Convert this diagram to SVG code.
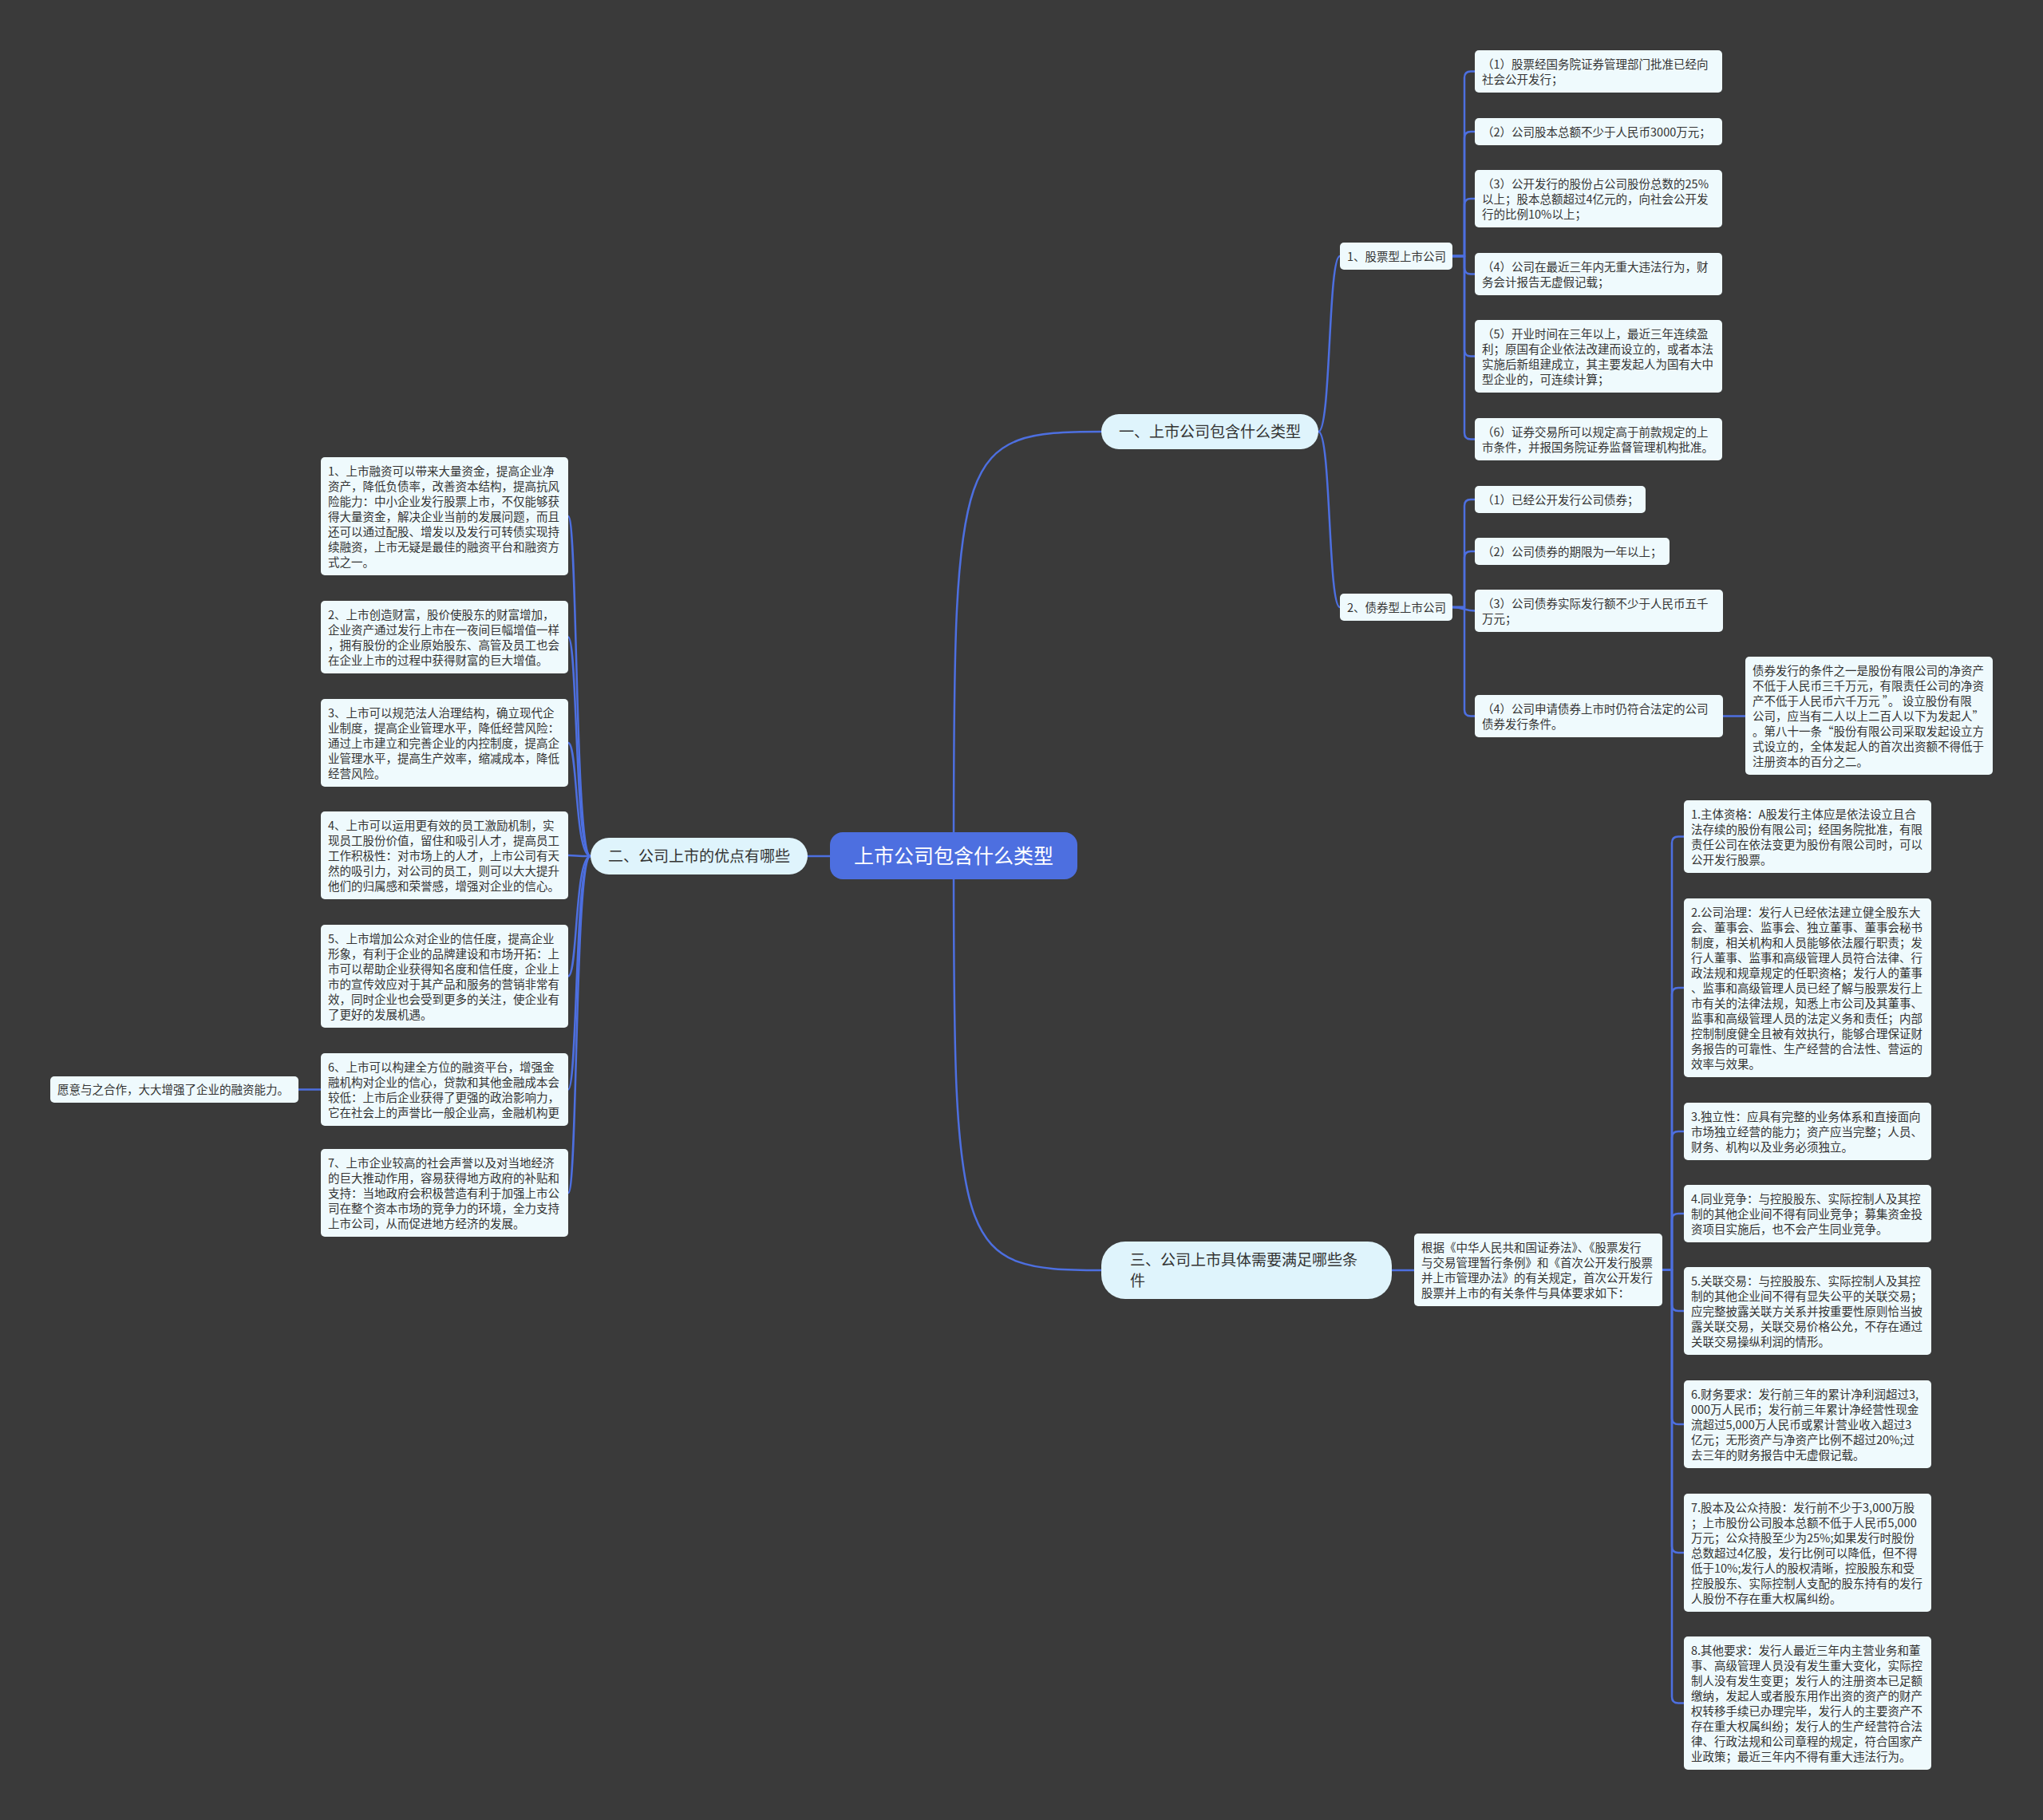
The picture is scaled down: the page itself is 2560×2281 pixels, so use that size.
<svg xmlns="http://www.w3.org/2000/svg" width="2560" height="2281" viewBox="0 0 2560 2281">
<style>
.bg{fill:#3a3a3a}
.c{fill:none;stroke:#4d6fe0;stroke-width:2.5;stroke-linecap:round;stroke-linejoin:round}
.leaf{fill:#effafd}
.sec{fill:#dff4fc}
.cen{fill:#4d6fe0}
.t{font-family:"Noto Sans CJK SC","Noto Sans",sans-serif;font-size:14.5px;fill:#333}
.ts{font-family:"Noto Sans CJK SC","Noto Sans",sans-serif;font-size:19px;fill:#333}
.tc{font-family:"Noto Sans CJK SC","Noto Sans",sans-serif;font-size:25px;fill:#fff;text-anchor:middle}
</style>
<rect class="bg" x="0" y="0" width="2560" height="2281"/>
<g id="connectors">
<path class="c" d="M1195 1072 C1195 560 1200 541 1380 541"/>
<path class="c" d="M1195 1072 C1195 1573 1200 1592 1380 1592"/>
<path class="c" d="M1040 1073 L1012 1073"/>
<path class="c" d="M1652 541 C1668 541 1664 321 1679 321"/>
<path class="c" d="M1652 541 C1668 541 1664 761 1679 761"/>
<path class="c" d="M1820 321 H1835 V97.5 Q1835 89.5 1843 89.5 H1848"/>
<path class="c" d="M1820 321 H1835 V173 Q1835 165 1843 165 H1848"/>
<path class="c" d="M1820 321 H1835 V257 Q1835 249 1843 249 H1848"/>
<path class="c" d="M1820 321 H1835 V335.5 Q1835 343.5 1843 343.5 H1848"/>
<path class="c" d="M1820 321 H1835 V438.5 Q1835 446.5 1843 446.5 H1848"/>
<path class="c" d="M1820 321 H1835 V542.5 Q1835 550.5 1843 550.5 H1848"/>
<path class="c" d="M1820 761 H1835 V634 Q1835 626 1843 626 H1848"/>
<path class="c" d="M1820 761 H1835 V699 Q1835 691 1843 691 H1848"/>
<path class="c" d="M1820 761 C1832 761 1836 765.5 1848 765.5"/>
<path class="c" d="M1820 761 H1835 V889.5 Q1835 897.5 1843 897.5 H1848"/>
<path class="c" d="M2159 897.5 H2187"/>
<path class="c" d="M1744 1592 H1772"/>
<path class="c" d="M2083 1591.5 H2095 V1056.5 Q2095 1048.5 2103 1048.5 H2110"/>
<path class="c" d="M2083 1591.5 H2095 V1246 Q2095 1238 2103 1238 H2110"/>
<path class="c" d="M2083 1591.5 H2095 V1426 Q2095 1418 2103 1418 H2110"/>
<path class="c" d="M2083 1591.5 H2095 V1529 Q2095 1521 2103 1521 H2110"/>
<path class="c" d="M2083 1591.5 H2095 V1635 Q2095 1643 2103 1643 H2110"/>
<path class="c" d="M2083 1591.5 H2095 V1777 Q2095 1785 2103 1785 H2110"/>
<path class="c" d="M2083 1591.5 H2095 V1938 Q2095 1946 2103 1946 H2110"/>
<path class="c" d="M2083 1591.5 H2095 V2126.5 Q2095 2134.5 2103 2134.5 H2110"/>
<path class="c" d="M740 1073 C720 1073 724 647 712 647"/>
<path class="c" d="M740 1073 C720 1073 724 798.5 712 798.5"/>
<path class="c" d="M740 1073 C720 1073 724 931 712 931"/>
<path class="c" d="M740 1073 C720 1073 724 1072 712 1072"/>
<path class="c" d="M740 1073 C720 1073 724 1223.5 712 1223.5"/>
<path class="c" d="M740 1073 C720 1073 724 1365.5 712 1365.5"/>
<path class="c" d="M740 1073 C720 1073 724 1495 712 1495"/>
<path class="c" d="M402 1365.5 H374"/>
</g>
<g id="center"><rect class="cen" x="1040" y="1043" width="310" height="59" rx="16"/><text class="tc" x="1195" y="1081.5">上市公司包含什么类型</text></g>
<g id="sec1"><rect class="sec" x="1380" y="519" width="272" height="44" rx="22"/><text class="ts" x="1516" y="548" text-anchor="middle">一、上市公司包含什么类型</text></g>
<g id="sec2"><rect class="sec" x="740" y="1050" width="272" height="46" rx="23"/><text class="ts" x="876" y="1080" text-anchor="middle">二、公司上市的优点有哪些</text></g>
<g id="sec3"><rect class="sec" x="1380" y="1556" width="364" height="72" rx="30"/><text class="ts" x="1416" y="1586"><tspan x="1416">三、公司上市具体需要满足哪些条</tspan><tspan x="1416" dy="26">件</tspan></text></g>
<g id="stock"><rect class="leaf" x="1679" y="304" width="141" height="34" rx="5"/><text class="t" x="1688" y="326.5">1、股票型上市公司</text></g>
<g id="bond"><rect class="leaf" x="1679" y="744" width="141" height="34" rx="5"/><text class="t" x="1688" y="766.5">2、债券型上市公司</text></g>
<g id="s1"><rect class="leaf" x="1848" y="63" width="310" height="53" rx="5"/><text class="t" y="85.5"><tspan x="1857">（1）股票经国务院证券管理部门批准已经向</tspan><tspan x="1857" dy="19">社会公开发行；</tspan></text></g>
<g id="s2"><rect class="leaf" x="1848" y="148" width="310" height="34" rx="5"/><text class="t" y="170.5"><tspan x="1857">（2）公司股本总额不少于人民币3000万元；</tspan></text></g>
<g id="s3"><rect class="leaf" x="1848" y="213" width="310" height="72" rx="5"/><text class="t" y="235.5"><tspan x="1857">（3）公开发行的股份占公司股份总数的25%</tspan><tspan x="1857" dy="19">以上；股本总额超过4亿元的，向社会公开发</tspan><tspan x="1857" dy="19">行的比例10%以上；</tspan></text></g>
<g id="s4"><rect class="leaf" x="1848" y="317" width="310" height="53" rx="5"/><text class="t" y="339.5"><tspan x="1857">（4）公司在最近三年内无重大违法行为，财</tspan><tspan x="1857" dy="19">务会计报告无虚假记载；</tspan></text></g>
<g id="s5"><rect class="leaf" x="1848" y="401" width="310" height="91" rx="5"/><text class="t" y="423.5"><tspan x="1857">（5）开业时间在三年以上，最近三年连续盈</tspan><tspan x="1857" dy="19">利；原国有企业依法改建而设立的，或者本法</tspan><tspan x="1857" dy="19">实施后新组建成立，其主要发起人为国有大中</tspan><tspan x="1857" dy="19">型企业的，可连续计算；</tspan></text></g>
<g id="s6"><rect class="leaf" x="1848" y="524" width="310" height="53" rx="5"/><text class="t" y="546.5"><tspan x="1857">（6）证券交易所可以规定高于前款规定的上</tspan><tspan x="1857" dy="19">市条件，并报国务院证券监督管理机构批准。</tspan></text></g>
<g id="b1"><rect class="leaf" x="1848" y="609" width="214" height="34" rx="5"/><text class="t" y="631.5"><tspan x="1857">（1）已经公开发行公司债券；</tspan></text></g>
<g id="b2"><rect class="leaf" x="1848" y="674" width="244" height="34" rx="5"/><text class="t" y="696.5"><tspan x="1857">（2）公司债券的期限为一年以上；</tspan></text></g>
<g id="b3"><rect class="leaf" x="1848" y="739" width="311" height="53" rx="5"/><text class="t" y="761.5"><tspan x="1857">（3）公司债券实际发行额不少于人民币五千</tspan><tspan x="1857" dy="19">万元；</tspan></text></g>
<g id="b4"><rect class="leaf" x="1848" y="871" width="311" height="53" rx="5"/><text class="t" y="893.5"><tspan x="1857">（4）公司申请债券上市时仍符合法定的公司</tspan><tspan x="1857" dy="19">债券发行条件。</tspan></text></g>
<g id="b4a"><rect class="leaf" x="2187" y="823" width="310" height="148" rx="5"/><text class="t" y="845.5"><tspan x="2196">债券发行的条件之一是股份有限公司的净资产</tspan><tspan x="2196" dy="19">不低于人民币三千万元，有限责任公司的净资</tspan><tspan x="2196" dy="19">产不低于人民币六千万元 ”。 设立股份有限</tspan><tspan x="2196" dy="19">公司，应当有二人以上二百人以下为发起人”</tspan><tspan x="2196" dy="19">。第八十一条“股份有限公司采取发起设立方</tspan><tspan x="2196" dy="19">式设立的，全体发起人的首次出资额不得低于</tspan><tspan x="2196" dy="19">注册资本的百分之二。</tspan></text></g>
<g id="l1"><rect class="leaf" x="402" y="573" width="310" height="148" rx="5"/><text class="t" y="595.5"><tspan x="411">1、上市融资可以带来大量资金，提高企业净</tspan><tspan x="411" dy="19">资产，降低负债率，改善资本结构，提高抗风</tspan><tspan x="411" dy="19">险能力：中小企业发行股票上市，不仅能够获</tspan><tspan x="411" dy="19">得大量资金，解决企业当前的发展问题，而且</tspan><tspan x="411" dy="19">还可以通过配股、增发以及发行可转债实现持</tspan><tspan x="411" dy="19">续融资，上市无疑是最佳的融资平台和融资方</tspan><tspan x="411" dy="19">式之一。</tspan></text></g>
<g id="l2"><rect class="leaf" x="402" y="753" width="310" height="91" rx="5"/><text class="t" y="775.5"><tspan x="411">2、上市创造财富，股价使股东的财富增加，</tspan><tspan x="411" dy="19">企业资产通过发行上市在一夜间巨幅增值一样</tspan><tspan x="411" dy="19">，拥有股份的企业原始股东、高管及员工也会</tspan><tspan x="411" dy="19">在企业上市的过程中获得财富的巨大增值。</tspan></text></g>
<g id="l3"><rect class="leaf" x="402" y="876" width="310" height="110" rx="5"/><text class="t" y="898.5"><tspan x="411">3、上市可以规范法人治理结构，确立现代企</tspan><tspan x="411" dy="19">业制度，提高企业管理水平，降低经营风险：</tspan><tspan x="411" dy="19">通过上市建立和完善企业的内控制度，提高企</tspan><tspan x="411" dy="19">业管理水平，提高生产效率，缩减成本，降低</tspan><tspan x="411" dy="19">经营风险。</tspan></text></g>
<g id="l4"><rect class="leaf" x="402" y="1017" width="310" height="110" rx="5"/><text class="t" y="1039.5"><tspan x="411">4、上市可以运用更有效的员工激励机制，实</tspan><tspan x="411" dy="19">现员工股份价值，留住和吸引人才，提高员工</tspan><tspan x="411" dy="19">工作积极性：对市场上的人才，上市公司有天</tspan><tspan x="411" dy="19">然的吸引力，对公司的员工，则可以大大提升</tspan><tspan x="411" dy="19">他们的归属感和荣誉感，增强对企业的信心。</tspan></text></g>
<g id="l5"><rect class="leaf" x="402" y="1159" width="310" height="129" rx="5"/><text class="t" y="1181.5"><tspan x="411">5、上市增加公众对企业的信任度，提高企业</tspan><tspan x="411" dy="19">形象，有利于企业的品牌建设和市场开拓：上</tspan><tspan x="411" dy="19">市可以帮助企业获得知名度和信任度，企业上</tspan><tspan x="411" dy="19">市的宣传效应对于其产品和服务的营销非常有</tspan><tspan x="411" dy="19">效，同时企业也会受到更多的关注，使企业有</tspan><tspan x="411" dy="19">了更好的发展机遇。</tspan></text></g>
<g id="l6"><rect class="leaf" x="402" y="1320" width="310" height="91" rx="5"/><text class="t" y="1342.5"><tspan x="411">6、上市可以构建全方位的融资平台，增强金</tspan><tspan x="411" dy="19">融机构对企业的信心，贷款和其他金融成本会</tspan><tspan x="411" dy="19">较低：上市后企业获得了更强的政治影响力，</tspan><tspan x="411" dy="19">它在社会上的声誉比一般企业高，金融机构更</tspan></text></g>
<g id="l6a"><rect class="leaf" x="63" y="1349" width="311" height="33" rx="5"/><text class="t" x="72" y="1371">愿意与之合作，大大增强了企业的融资能力。</text></g>
<g id="l7"><rect class="leaf" x="402" y="1440" width="310" height="110" rx="5"/><text class="t" y="1462.5"><tspan x="411">7、上市企业较高的社会声誉以及对当地经济</tspan><tspan x="411" dy="19">的巨大推动作用，容易获得地方政府的补贴和</tspan><tspan x="411" dy="19">支持：当地政府会积极营造有利于加强上市公</tspan><tspan x="411" dy="19">司在整个资本市场的竞争力的环境，全力支持</tspan><tspan x="411" dy="19">上市公司，从而促进地方经济的发展。</tspan></text></g>
<g id="r0"><rect class="leaf" x="1772" y="1546" width="311" height="91" rx="5"/><text class="t" y="1568.5"><tspan x="1781">根据《中华人民共和国证券法》、《股票发行</tspan><tspan x="1781" dy="19">与交易管理暂行条例》和《首次公开发行股票</tspan><tspan x="1781" dy="19">并上市管理办法》的有关规定，首次公开发行</tspan><tspan x="1781" dy="19">股票并上市的有关条件与具体要求如下：</tspan></text></g>
<g id="r1"><rect class="leaf" x="2110" y="1003" width="310" height="91" rx="5"/><text class="t" y="1025.5"><tspan x="2119">1.主体资格：A股发行主体应是依法设立且合</tspan><tspan x="2119" dy="19">法存续的股份有限公司；经国务院批准，有限</tspan><tspan x="2119" dy="19">责任公司在依法变更为股份有限公司时，可以</tspan><tspan x="2119" dy="19">公开发行股票。</tspan></text></g>
<g id="r2"><rect class="leaf" x="2110" y="1126" width="310" height="224" rx="5"/><text class="t" y="1148.5"><tspan x="2119">2.公司治理：发行人已经依法建立健全股东大</tspan><tspan x="2119" dy="19">会、董事会、监事会、独立董事、董事会秘书</tspan><tspan x="2119" dy="19">制度，相关机构和人员能够依法履行职责；发</tspan><tspan x="2119" dy="19">行人董事、监事和高级管理人员符合法律、行</tspan><tspan x="2119" dy="19">政法规和规章规定的任职资格；发行人的董事</tspan><tspan x="2119" dy="19">、监事和高级管理人员已经了解与股票发行上</tspan><tspan x="2119" dy="19">市有关的法律法规，知悉上市公司及其董事、</tspan><tspan x="2119" dy="19">监事和高级管理人员的法定义务和责任；内部</tspan><tspan x="2119" dy="19">控制制度健全且被有效执行，能够合理保证财</tspan><tspan x="2119" dy="19">务报告的可靠性、生产经营的合法性、营运的</tspan><tspan x="2119" dy="19">效率与效果。</tspan></text></g>
<g id="r3"><rect class="leaf" x="2110" y="1382" width="310" height="72" rx="5"/><text class="t" y="1404.5"><tspan x="2119">3.独立性：应具有完整的业务体系和直接面向</tspan><tspan x="2119" dy="19">市场独立经营的能力；资产应当完整；人员、</tspan><tspan x="2119" dy="19">财务、机构以及业务必须独立。</tspan></text></g>
<g id="r4"><rect class="leaf" x="2110" y="1485" width="310" height="72" rx="5"/><text class="t" y="1507.5"><tspan x="2119">4.同业竞争：与控股股东、实际控制人及其控</tspan><tspan x="2119" dy="19">制的其他企业间不得有同业竞争；募集资金投</tspan><tspan x="2119" dy="19">资项目实施后，也不会产生同业竞争。</tspan></text></g>
<g id="r5"><rect class="leaf" x="2110" y="1588" width="310" height="110" rx="5"/><text class="t" y="1610.5"><tspan x="2119">5.关联交易：与控股股东、实际控制人及其控</tspan><tspan x="2119" dy="19">制的其他企业间不得有显失公平的关联交易；</tspan><tspan x="2119" dy="19">应完整披露关联方关系并按重要性原则恰当披</tspan><tspan x="2119" dy="19">露关联交易，关联交易价格公允，不存在通过</tspan><tspan x="2119" dy="19">关联交易操纵利润的情形。</tspan></text></g>
<g id="r6"><rect class="leaf" x="2110" y="1730" width="310" height="110" rx="5"/><text class="t" y="1752.5"><tspan x="2119">6.财务要求：发行前三年的累计净利润超过3,</tspan><tspan x="2119" dy="19">000万人民币；发行前三年累计净经营性现金</tspan><tspan x="2119" dy="19">流超过5,000万人民币或累计营业收入超过3</tspan><tspan x="2119" dy="19">亿元；无形资产与净资产比例不超过20%;过</tspan><tspan x="2119" dy="19">去三年的财务报告中无虚假记载。</tspan></text></g>
<g id="r7"><rect class="leaf" x="2110" y="1872" width="310" height="148" rx="5"/><text class="t" y="1894.5"><tspan x="2119">7.股本及公众持股：发行前不少于3,000万股</tspan><tspan x="2119" dy="19">；上市股份公司股本总额不低于人民币5,000</tspan><tspan x="2119" dy="19">万元；公众持股至少为25%;如果发行时股份</tspan><tspan x="2119" dy="19">总数超过4亿股，发行比例可以降低，但不得</tspan><tspan x="2119" dy="19">低于10%;发行人的股权清晰，控股股东和受</tspan><tspan x="2119" dy="19">控股股东、实际控制人支配的股东持有的发行</tspan><tspan x="2119" dy="19">人股份不存在重大权属纠纷。</tspan></text></g>
<g id="r8"><rect class="leaf" x="2110" y="2051" width="310" height="167" rx="5"/><text class="t" y="2073.5"><tspan x="2119">8.其他要求：发行人最近三年内主营业务和董</tspan><tspan x="2119" dy="19">事、高级管理人员没有发生重大变化，实际控</tspan><tspan x="2119" dy="19">制人没有发生变更；发行人的注册资本已足额</tspan><tspan x="2119" dy="19">缴纳，发起人或者股东用作出资的资产的财产</tspan><tspan x="2119" dy="19">权转移手续已办理完毕，发行人的主要资产不</tspan><tspan x="2119" dy="19">存在重大权属纠纷；发行人的生产经营符合法</tspan><tspan x="2119" dy="19">律、行政法规和公司章程的规定，符合国家产</tspan><tspan x="2119" dy="19">业政策；最近三年内不得有重大违法行为。</tspan></text></g>
</svg>
